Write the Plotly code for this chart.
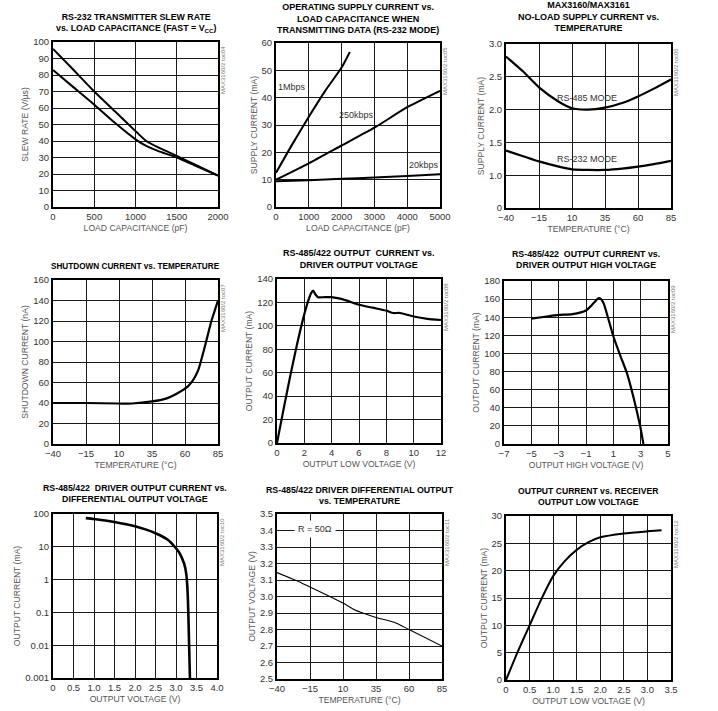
import plotly.graph_objects as go

W, H = 718, 711
FONT = "Liberation Sans Narrow, Arial Narrow, Liberation Sans, Arial, sans-serif"

# ---------- data ----------
# 1: slew rate vs load capacitance
p1_cap_a = [0, 250, 500, 750, 1000, 1130, 1300, 1500, 1750, 2000]
p1_slew_a = [95.8, 83, 70, 58, 46, 40, 35.5, 31, 25, 19]
p1_cap_b = [0, 250, 500, 750, 1000, 1130, 1270, 1500, 1750, 2000]
p1_slew_b = [83, 72.5, 62, 51, 41, 37, 34, 30, 24.5, 19]

# 2: supply current vs load capacitance
p2_cap_1m = [0, 500, 1000, 1500, 2000, 2250]
p2_cur_1m = [12.5, 23, 33, 42.5, 51, 56.7]
p2_cap_250k = [0, 1000, 2000, 3000, 4000, 5000]
p2_cur_250k = [10, 16, 22.5, 29, 36.5, 42.5]
p2_cap_20k = [0, 1000, 2000, 3000, 4000, 5000]
p2_cur_20k = [9.4, 9.8, 10.3, 10.8, 11.3, 12]

# 3: no-load supply current vs temperature
p3_temp = [-40, -27, -15, 0, 10, 22, 35, 48, 60, 72, 85]
p3_rs485 = [2.81, 2.58, 2.34, 2.12, 2.02, 2.0, 2.03, 2.1, 2.2, 2.32, 2.46]
p3_rs232 = [1.375, 1.29, 1.21, 1.13, 1.09, 1.08, 1.08, 1.1, 1.13, 1.17, 1.22]

# 4: shutdown current vs temperature
p4_temp = [-40, -15, 10, 20, 35, 45, 55, 62, 66, 70, 74, 77, 80, 83, 85]
p4_cur = [40, 40, 39.5, 39.5, 41.5, 44, 50, 56, 62, 72, 90, 105, 120, 132, 140]

# 5: output current vs driver output low voltage
p5_v = [0, 0.5, 1, 1.5, 2, 2.3, 2.5, 2.65, 2.8, 3, 3.5, 4, 5, 6, 7, 8, 8.5, 9, 10, 11, 12]
p5_i = [0, 30, 59, 86, 110, 122, 128, 130, 127, 124.5, 124.5, 124.5, 122, 118, 115.5, 113, 111, 111, 108, 106, 105]

# 6: output current vs driver output high voltage
p6_v = [-5, -4, -3, -2, -1, -0.6, -0.3, -0.1, 0.1, 0.3, 0.6, 1, 1.5, 2, 2.5, 3, 3.2]
p6_i = [138.5, 140.5, 142.5, 143.5, 147.5, 153, 158, 161, 160, 155, 140, 119, 98, 78, 50, 17, 0]

# 7: driver output current vs differential output voltage
p7_v = [0.8, 1.0, 1.5, 2.0, 2.5, 2.8, 3.0, 3.1, 3.2, 3.25, 3.28, 3.3, 3.32, 3.34]
p7_i = [75, 70, 57, 42, 26, 16.5, 9, 6, 3, 1.5, 0.5, 0.1, 0.01, 0.001]

# 8: differential output vs temperature
p8_temp = [-40, -25, -15, 0, 10, 20, 25, 35, 50, 60, 85]
p8_vout = [3.145, 3.095, 3.057, 3.0, 2.96, 2.915, 2.9, 2.873, 2.84, 2.80, 2.70]

# 9: output current vs receiver output low voltage
p9_v = [0, 0.25, 0.5, 0.75, 1.0, 1.25, 1.5, 1.75, 2.0, 2.5, 3.0, 3.3]
p9_i = [0, 5.2, 10, 14.8, 19, 21.8, 23.8, 25.2, 26.1, 26.8, 27.2, 27.4]

# ---------- panel geometry (pixels) ----------
boxes = {
    1: (53, 218, 42, 207), 2: (276, 440, 43, 207), 3: (506, 671, 44, 208),
    4: (53, 218, 280, 444), 5: (277, 441, 279, 443), 6: (504, 668, 281, 444),
    7: (53, 217, 514, 678), 8: (277, 442, 514, 679), 9: (506, 671, 516, 680),
}

titles = {
    1: "RS-232 TRANSMITTER SLEW RATE<br>vs. LOAD CAPACITANCE (FAST = V<sub>CC</sub>)",
    2: "OPERATING SUPPLY CURRENT vs.<br>LOAD CAPACITANCE WHEN<br>TRANSMITTING DATA (RS-232 MODE)",
    3: "MAX3160/MAX3161<br>NO-LOAD SUPPLY CURRENT vs.<br>TEMPERATURE",
    4: "SHUTDOWN CURRENT vs. TEMPERATURE",
    5: "RS-485/422 OUTPUT  CURRENT vs.<br>DRIVER OUTPUT VOLTAGE",
    6: "RS-485/422  OUTPUT CURRENT vs.<br>DRIVER OUTPUT HIGH VOLTAGE",
    7: "RS-485/422  DRIVER OUTPUT CURRENT vs.<br>DIFFERENTIAL OUTPUT VOLTAGE",
    8: "RS-485/422 DRIVER DIFFERENTIAL OUTPUT<br>vs. TEMPERATURE",
    9: "OUTPUT CURRENT vs. RECEIVER<br>OUTPUT LOW VOLTAGE",
}
title_y = {1: 23, 2: 18, 3: 17, 4: 266, 5: 259, 6: 259, 7: 493, 8: 495, 9: 496}
title_size = {1: 8.8, 2: 9, 3: 9, 4: 8.2, 5: 9, 6: 8.8, 7: 8.8, 8: 8.8, 9: 8.6}

xtitles = {1: "LOAD CAPACITANCE (pF)", 2: "LOAD CAPACITANCE (pF)", 3: "TEMPERATURE (°C)",
           4: "TEMPERATURE (°C)", 5: "OUTPUT LOW VOLTAGE (V)", 6: "OUTPUT HIGH VOLTAGE (V)",
           7: "OUTPUT VOLTAGE (V)", 8: "TEMPERATURE (°C)", 9: "OUTPUT LOW VOLTAGE (V)"}
ytitles = {1: "SLEW RATE (V/µs)", 2: "SUPPLY CURRENT (mA)", 3: "SUPPLY CURRENT (mA)",
           4: "SHUTDOWN CURRENT (nA)", 5: "OUTPUT CURRENT (mA)", 6: "OUTPUT CURRENT (mA)",
           7: "OUTPUT CURRENT (mA)", 8: "OUTPUT VOLTAGE (V)", 9: "OUTPUT CURRENT (mA)"}

temp_ticks = [-40, -15, 10, 35, 60, 85]
xaxes = {
    1: dict(range=[0, 2000], tickvals=[0, 500, 1000, 1500, 2000]),
    2: dict(range=[0, 5000], tickvals=[0, 1000, 2000, 3000, 4000, 5000]),
    3: dict(range=[-40, 85], tickvals=temp_ticks),
    4: dict(range=[-40, 85], tickvals=temp_ticks),
    5: dict(range=[0, 12], tickvals=[0, 2, 4, 6, 8, 10, 12]),
    6: dict(range=[-7, 5], tickvals=[-7, -5, -3, -1, 1, 3, 5]),
    7: dict(range=[0, 4], tickvals=[0, 0.5, 1, 1.5, 2, 2.5, 3, 3.5, 4],
            ticktext=["0", "0.5", "1.0", "1.5", "2.0", "2.5", "3.0", "3.5", "4.0"]),
    8: dict(range=[-40, 85], tickvals=temp_ticks),
    9: dict(range=[0, 3.5], tickvals=[0, 0.5, 1, 1.5, 2, 2.5, 3, 3.5],
            ticktext=["0", "0.5", "1.0", "1.5", "2.0", "2.5", "3.0", "3.5"]),
}
yaxes = {
    1: dict(range=[0, 100], tickvals=list(range(0, 101, 10))),
    2: dict(range=[0, 60], tickvals=list(range(0, 61, 10))),
    3: dict(range=[0.5, 3.0], tickvals=[0.5, 1.0, 1.5, 2.0, 2.5, 3.0],
            ticktext=["0", "1.0", "1.5", "2.0", "2.5", "3.0"]),
    4: dict(range=[0, 160], tickvals=list(range(0, 161, 20))),
    5: dict(range=[0, 140], tickvals=list(range(0, 141, 20))),
    6: dict(range=[0, 180], tickvals=list(range(0, 181, 20))),
    7: dict(type="log", range=[-3, 2], tickvals=[0.001, 0.01, 0.1, 1, 10, 100],
            ticktext=["0.001", "0.01", "0.1", "1", "10", "100"]),
    8: dict(range=[2.5, 3.5], tickvals=[2.5, 2.6, 2.7, 2.8, 2.9, 3.0, 3.1, 3.2, 3.3, 3.4, 3.5],
            ticktext=["2.5", "2.6", "2.7", "2.8", "2.9", "3.0", "3.1", "3.2", "3.3", "3.4", "3.5"]),
    9: dict(range=[0, 30], tickvals=[0, 5, 10, 15, 20, 25, 30]),
}

series = {
    1: [(p1_cap_a, p1_slew_a, 2), (p1_cap_b, p1_slew_b, 2)],
    2: [(p2_cap_1m, p2_cur_1m, 2), (p2_cap_250k, p2_cur_250k, 2), (p2_cap_20k, p2_cur_20k, 2)],
    3: [(p3_temp, p3_rs485, 2.2), (p3_temp, p3_rs232, 2.2)],
    4: [(p4_temp, p4_cur, 2.2)],
    5: [(p5_v, p5_i, 2.2)],
    6: [(p6_v, p6_i, 2.2)],
    7: [(p7_v, p7_i, 2.6)],
    8: [(p8_temp, p8_vout, 1.1)],
    9: [(p9_v, p9_i, 2)],
}

fig = go.Figure()
annotations = []
layout = {}
TICKF = dict(family=FONT, size=9.5, color="#333")
TITF = dict(family=FONT, size=8.6, color="#555")
for k in range(1, 10):
    l, r, t, b = boxes[k]
    sfx = "" if k == 1 else str(k)
    common = dict(showgrid=True, gridcolor="#1a1a1a", gridwidth=1, zeroline=False,
                  showline=True, linecolor="black", linewidth=2, mirror=True, ticks="",
                  tickfont=TICKF, automargin=False, fixedrange=True)
    xa = dict(domain=[l / W, r / W], anchor="y" + sfx,
              title=dict(text=xtitles[k], font=TITF, standoff=4), **common)
    xa.update(xaxes[k])
    ya = dict(domain=[1 - b / H, 1 - t / H], anchor="x" + sfx,
              title=dict(text=ytitles[k], font=TITF, standoff=3), **common)
    ya.update(yaxes[k])
    layout["xaxis" + sfx] = xa
    layout["yaxis" + sfx] = ya
    for xs, ys, w in series[k]:
        fig.add_trace(go.Scatter(x=xs, y=ys, mode="lines",
                                 line=dict(color="black", width=w, shape="spline", smoothing=0.6),
                                 xaxis="x" + sfx, yaxis="y" + sfx, showlegend=False, hoverinfo="skip"))
    annotations.append(dict(text="<b>" + titles[k] + "</b>", xref="paper", yref="paper",
                            x=(l + r) / 2 / W, y=1 - title_y[k] / H, xanchor="center", yanchor="middle",
                            showarrow=False, font=dict(family=FONT, size=title_size[k], color="black")))
    annotations.append(dict(text="MAX3160/2 toc%02d" % (k + 3), xref="paper", yref="paper",
                            x=(r + 5) / W, y=1 - (t + 2) / H, xanchor="center", yanchor="top",
                            textangle=-90, showarrow=False, font=dict(family=FONT, size=6, color="#777")))

# in-plot labels
LBL = dict(family=FONT, size=9, color="#333")
annotations += [
    dict(text="1Mbps", x=480, y=44, xref="x2", yref="y2", showarrow=False, font=LBL),
    dict(text="250kbps", x=2460, y=33.8, xref="x2", yref="y2", showarrow=False, font=LBL),
    dict(text="20kbps", x=4520, y=15.2, xref="x2", yref="y2", showarrow=False, font=LBL),
    dict(text="RS-485 MODE", x=21.6, y=2.18, xref="x3", yref="y3", showarrow=False, font=LBL),
    dict(text="RS-232 MODE", x=21.6, y=1.25, xref="x3", yref="y3", showarrow=False, font=LBL),
    dict(text="R = 50Ω", x=-11.3, y=3.41, xref="x8", yref="y8", showarrow=False, bgcolor="white",
         borderpad=3, font=LBL),
]

fig.update_layout(width=W, height=H, margin=dict(l=0, r=0, t=0, b=0),
                  paper_bgcolor="white", plot_bgcolor="white", annotations=annotations, **layout)
fig.write_html("out.html", config={"displayModeBar": False},
               post_script="document.body.style.margin='0px';document.body.style.overflow='hidden';")
